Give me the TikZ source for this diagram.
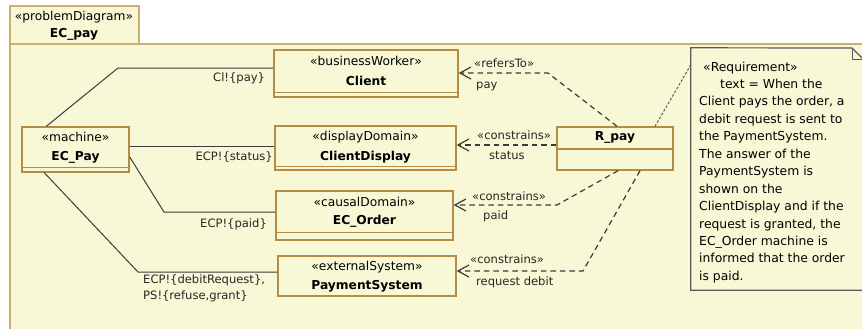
\documentclass[tikz,border=0pt]{standalone}
\usepackage{fontspec}
\setmainfont{DejaVu Sans}
\usetikzlibrary{arrows.meta,calc}
\definecolor{bgyel}{RGB}{248,248,214}
\definecolor{boxc}{RGB}{180,140,70}
\definecolor{framec}{RGB}{204,174,112}
\definecolor{linec}{RGB}{60,60,60}
\definecolor{notec}{RGB}{90,90,90}
\begin{document}
\begin{tikzpicture}[x=1bp,y=-1bp,
  umlbox/.style={draw=boxc, fill=bgyel, line width=1.4bp, inner sep=0pt},
  sepline/.style={draw=boxc, line width=1.4bp},
  stereo/.style={font=\fontsize{12.3}{14}\selectfont, inner sep=0pt},
  bname/.style={font=\fontsize{12.3}{14}\selectfont\bfseries, inner sep=0pt},
  lbl/.style={font=\fontsize{11.6}{16}\selectfont, inner sep=0pt, text=black!85, anchor=west},
  assoc/.style={draw=linec, line width=1bp},
  dep/.style={draw=linec, line width=1.2bp, dash pattern=on 5.5bp off 4bp,
    -{Straight Barb[length=11bp,width=12bp,line width=1.2bp]}},
  notelink/.style={draw=notec, line width=1bp, dash pattern=on 2.5bp off 1.8bp}
]
\useasboundingbox (0,0) rectangle (862,328);
\fill[white] (0,0) rectangle (862,328);

% problem diagram frame and its name tab
\draw[framec, fill=bgyel, line width=1.3bp] (10,44) rectangle (880,345);
\draw[framec, fill=bgyel, line width=1.3bp] (10,6) rectangle (139,44);
\node[stereo] (frame-st) at (74,17) {«problemDiagram»};
\node[bname] (frame-nm) at (74,34) {EC\_pay};

% domains
\node[umlbox, minimum width=184bp, minimum height=47bp] (client) at (366,73.5) {};
\draw[sepline] ($(client.south west)+(0,-5)$) -- ($(client.south east)+(0,-5)$);
\node[stereo] (client-st) at (366,61) {«businessWorker»};
\node[bname] (client-nm) at (366,81) {Client};

\node[umlbox, minimum width=181bp, minimum height=44bp] (cdisp) at (365.5,148) {};
\draw[sepline] ($(cdisp.south west)+(0,-4)$) -- ($(cdisp.south east)+(0,-4)$);
\node[stereo] (cdisp-st) at (365.5,137) {«displayDomain»};
\node[bname] (cdisp-nm) at (365.5,157) {ClientDisplay};

\node[umlbox, minimum width=177bp, minimum height=49bp] (ecorder) at (364.5,215.5) {};
\draw[sepline] ($(ecorder.south west)+(0,-8)$) -- ($(ecorder.south east)+(0,-8)$);
\node[stereo] (ecorder-st) at (364.5,202) {«causalDomain»};
\node[bname] (ecorder-nm) at (364.5,221) {EC\_Order};

\node[umlbox, minimum width=178bp, minimum height=40bp] (paysys) at (367,276) {};
\node[stereo] (paysys-st) at (367,267) {«externalSystem»};
\node[bname] (paysys-nm) at (367,286) {PaymentSystem};

% machine
\node[umlbox, minimum width=107bp, minimum height=45bp] (ecpay) at (75.5,149.5) {};
\draw[sepline] ($(ecpay.south west)+(0,-5)$) -- ($(ecpay.south east)+(0,-5)$);
\node[stereo] (ecpay-st) at (75.5,137) {«machine»};
\node[bname] (ecpay-nm) at (75.5,157) {EC\_Pay};

% requirement
\node[umlbox, minimum width=116bp, minimum height=43bp] (rpay) at (615,148.5) {};
\draw[sepline] (rpay.west |- 0,149) -- (rpay.east |- 0,149);
\node[bname] (rpay-nm) at (615,137) {R\_pay};

% bend points
\coordinate (b1) at (118,68);
\coordinate (b4) at (200,146);
\coordinate (b2) at (164,212);
\coordinate (b3) at (138,272);
\coordinate (d1) at (548,73);
\coordinate (d0) at (500,145);
\coordinate (d2) at (557,205);
\coordinate (d3) at (583,271);

% interfaces between machine and domains
\draw[assoc] ($(ecpay.north west)+(25,0)$) -- (b1) -- (b1 -| client.west);
\draw[assoc] (b4 -| ecpay.east) -- (b4 -| cdisp.west);
\draw[assoc] ($(ecpay.east)+(0,7.5)$) -- (b2) -- (b2 -| ecorder.west);
\draw[assoc] ($(ecpay.south west)+(23,0)$) -- (b3) -- (b3 -| paysys.west);

\node[lbl] (l-pay) at (213,78) {Cl!\{pay\}};
\node[lbl, anchor=east] (l-status) at (273,157) {ECP!\{status\}};
\node[lbl] (l-paid) at (200,224) {ECP!\{paid\}};
\node[lbl, align=left, anchor=north west] (l-debit) at (143,275) {ECP!\{debitRequest\},\\PS!\{refuse,grant\}};

% requirement references
\draw[dep] ($(rpay.north)+(2,0)$) -- (d1) -- (d1 -| client.east);
\draw[dep] (d0 -| rpay.west) -- (d0 -| cdisp.east);
\draw[dep] ($(rpay.south)+(3,0)$) -- (d2) -- (d2 -| ecorder.east);
\draw[dep] ($(rpay.south)+(25,0)$) -- (d3) -- (d3 -| paysys.east);

\node[lbl] (r1-st) at (474,63) {«refersTo»};
\node[lbl] (r1-ph) at (476,86) {pay};
\node[lbl] (r2-st) at (477,135) {«constrains»};
\node[lbl] (r2-ph) at (489,156) {status};
\node[lbl] (r3-st) at (472,196) {«constrains»};
\node[lbl] (r3-ph) at (483,216) {paid};
\node[lbl] (r4-st) at (470,259) {«constrains»};
\node[lbl] (r4-ph) at (476,282) {request debit};

% requirement note
\node[minimum width=172bp, minimum height=242bp, inner sep=0pt] (note) at (777,169) {};
\draw[notec, fill=bgyel, line width=1.2bp]
  (note.north west) -- (852,48) -- (863,59) -- (note.south east) -- (note.south west) -- cycle;
\draw[notec, line width=1bp] (852,48) -- (852,59) -- (863,59);
\node[anchor=north west, inner sep=0pt, align=left,
  font=\fontsize{12.4}{17.5}\selectfont] (note-text) at (699,61.5) {%
\hspace*{4bp}«Requirement»\\
\hspace*{21bp}text = When the\\
Client pays the order, a\\
debit request is sent to\\
the PaymentSystem.\\
The answer of the\\
PaymentSystem is\\
shown on the\\
ClientDisplay and if the\\
request is granted, the\\
EC\_Order machine is\\
informed that the order\\
is paid.};
\draw[notelink] ($(rpay.north)+(40,0)$) -- ($(note.north west)+(0,17)$);
\end{tikzpicture}
\end{document}
